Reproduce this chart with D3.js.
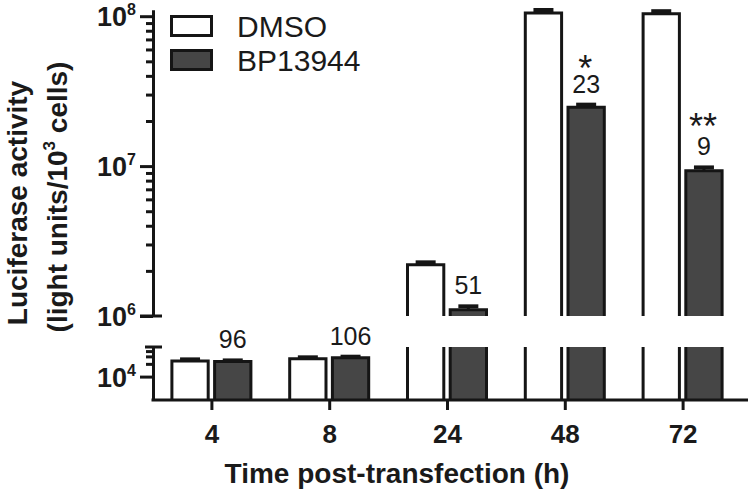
<!DOCTYPE html>
<html>
<head>
<meta charset="utf-8">
<script src="https://cdn.jsdelivr.net/npm/d3@7"></script>
<style>
  body { margin: 0; background: #fff; }
  svg { display: block; font-family: "Liberation Sans", Arial, sans-serif; }
</style>
</head>
<body>
<svg class="chart" width="750" height="492"></svg>
<script>
// data
const categories = ["4", "8", "24", "48", "72"];
const seriesNames = ["DMSO", "BP13944"];
const dmsoValues = [2.35e4, 2.65e4, 2.2e6, 1.05e8, 1.04e8];
const dmsoErrors = [0.2e4, 0.2e4, 0.08e6, 0.05e8, 0.04e8];
const bpValues = [2.26e4, 2.8e4, 1.1e6, 2.47e7, 9.3e6];
const bpErrors = [0.15e4, 0.15e4, 0.06e6, 0.1e7, 0.5e6];
const percentLabels = ["96", "106", "51", "23", "9"];
const starLabels = ["", "", "", "*", "**"];
const upperMajorTicks = [1e6, 1e7, 1e8];
const upperMinorTicks = [2e6, 3e6, 4e6, 5e6, 6e6, 7e6, 8e6, 9e6, 2e7, 3e7, 4e7, 5e7, 6e7, 7e7, 8e7, 9e7];
const lowerMajorTicks = [1e4];
const lowerMinorTicks = [2e4, 3e4, 4e4];

const ink = "#151515";
const fills = { "DMSO": "#ffffff", "BP13944": "#464646" };

const svg = d3.select(".chart");
const axisX = 153, baseY = 400;

// broken log axis: two segments
const yLow = d3.scaleLog().domain([2.8e3, 5e4]).range([baseY, 347]);
const yHigh = d3.scaleLog().domain([1e6, 1.1e8]).range([316, 10]);
const lowTop = 5e4;

const x = d3.scaleBand().domain(categories).range([axisX, 742]).padding(0);
const xs = d3.scaleBand().domain(seriesNames).range([-40, 39]).paddingInner(0.15);

const rows = [];
categories.forEach((c, i) => {
  rows.push({ cat: c, s: "DMSO", v: dmsoValues[i], e: dmsoErrors[i] });
  rows.push({ cat: c, s: "BP13944", v: bpValues[i], e: bpErrors[i] });
});

const bars = svg.append("g");
rows.forEach(d => {
  const x0 = x(d.cat) + x.bandwidth() / 2 + xs(d.s);
  const x1 = x0 + xs.bandwidth();
  const cx = (x0 + x1) / 2;
  let top, capY;
  if (d.v <= lowTop) {
    top = yLow(d.v);
    capY = yLow(d.v + d.e);
    bars.append("rect").attr("x", x0).attr("y", top).attr("width", x1 - x0).attr("height", baseY - top)
      .attr("fill", fills[d.s]);
    bars.append("path").attr("d", `M${x0},${baseY}V${top}H${x1}V${baseY}`)
      .attr("fill", "none").attr("stroke", ink).attr("stroke-width", 3);
  } else {
    const lt = yLow(lowTop);
    top = yHigh(d.v);
    capY = yHigh(d.v + d.e);
    bars.append("rect").attr("x", x0).attr("y", lt).attr("width", x1 - x0).attr("height", baseY - lt)
      .attr("fill", fills[d.s]);
    bars.append("path").attr("d", `M${x0},${baseY}V${lt}M${x1},${lt}V${baseY}`)
      .attr("fill", "none").attr("stroke", ink).attr("stroke-width", 3);
    bars.append("rect").attr("x", x0).attr("y", top).attr("width", x1 - x0).attr("height", yHigh(1e6) - top)
      .attr("fill", fills[d.s]);
    bars.append("path").attr("d", `M${x0},${yHigh(1e6)}V${top}H${x1}V${yHigh(1e6)}`)
      .attr("fill", "none").attr("stroke", ink).attr("stroke-width", 3);
  }
  // error bar (upper half only)
  bars.append("line").attr("x1", cx).attr("x2", cx).attr("y1", top).attr("y2", capY)
    .attr("stroke", ink).attr("stroke-width", 3);
  bars.append("line").attr("x1", cx - 10).attr("x2", cx + 10).attr("y1", capY).attr("y2", capY)
    .attr("stroke", ink).attr("stroke-width", 4);
  d.cx = cx; d.capY = capY;
});

// percent + significance labels above the BP13944 bars
const bpRows = rows.filter(d => d.s === "BP13944");
bpRows.forEach((d, i) => {
  svg.append("text").attr("x", d.cx).attr("y", d.capY - 12)
    .attr("text-anchor", "middle").attr("font-size", 25).attr("fill", "#1a1a1a")
    .text(percentLabels[i]);
  if (starLabels[i]) {
    svg.append("text").attr("x", d.cx - 1).attr("y", d.capY - 12 - (starLabels[i].length > 1 ? 16 : 12))
      .attr("text-anchor", "middle").attr("font-size", 36).attr("fill", "#1a1a1a")
      .text(starLabels[i]);
  }
});

// x axis
const gx = svg.append("g").attr("transform", `translate(0,${baseY})`)
  .call(d3.axisBottom(x).tickSize(10).tickSizeOuter(0).tickPadding(6));
gx.select(".domain").remove();
gx.append("line").attr("x1", axisX - 1.5).attr("x2", 748).attr("y1", 0).attr("y2", 0)
  .attr("stroke", ink).attr("stroke-width", 3);
gx.selectAll(".tick line").attr("stroke", ink).attr("stroke-width", 3);
gx.selectAll(".tick text").attr("font-size", 26).attr("font-weight", "bold")
  .attr("fill", "#1a1a1a").attr("font-family", "Liberation Sans, Arial, sans-serif").attr("dy", "1.05em");

// y axis segments
function drawSegment(scale, majors, minors) {
  const g = svg.append("g").attr("transform", `translate(${axisX},0)`);
  g.call(d3.axisLeft(scale).tickValues(majors).tickSize(13).tickSizeOuter(0).tickFormat(""));
  g.call(sel => sel.append("g").call(d3.axisLeft(scale).tickValues(minors).tickSize(7).tickSizeOuter(0).tickFormat("")));
  g.selectAll("path.domain").attr("stroke", ink).attr("stroke-width", 3);
  g.selectAll(".tick line").attr("stroke", ink).attr("stroke-width", 3);
  majors.forEach(v => {
    const t = g.append("text").attr("x", -17).attr("y", scale(v) + 10)
      .attr("text-anchor", "end").attr("font-weight", "bold").attr("fill", "#1a1a1a");
    t.append("tspan").attr("font-size", 27).text("10");
    t.append("tspan").attr("font-size", 16).attr("dy", -11).text(Math.round(Math.log10(v)));
  });
  return g;
}
drawSegment(yHigh, upperMajorTicks, upperMinorTicks);
drawSegment(yLow, lowerMajorTicks, lowerMinorTicks);

// break caps
[yHigh(1e6), yLow(lowTop)].forEach((yy, i) => {
  svg.append("line").attr("x1", axisX - (i ? 8 : 13)).attr("x2", axisX + 9).attr("y1", yy).attr("y2", yy)
    .attr("stroke", ink).attr("stroke-width", 3);
});

// axis titles
svg.append("text").attr("x", 397).attr("y", 483).attr("text-anchor", "middle")
  .attr("font-size", 28).attr("font-weight", "bold").attr("fill", "#1a1a1a")
  .text("Time post-transfection (h)");

const yt1 = svg.append("text").attr("transform", "translate(27,203) rotate(-90)")
  .attr("text-anchor", "middle").attr("font-size", 28).attr("font-weight", "bold").attr("fill", "#1a1a1a")
  .text("Luciferase activity");
const yt2 = svg.append("text").attr("transform", "translate(67,197) rotate(-90)")
  .attr("text-anchor", "middle").attr("font-size", 28).attr("font-weight", "bold").attr("fill", "#1a1a1a");
yt2.append("tspan").text("(light units/10");
yt2.append("tspan").attr("font-size", 17).attr("dy", -12).text("3");
yt2.append("tspan").attr("dy", 12).text(" cells)");

// legend
const legend = svg.append("g");
seriesNames.forEach((s, i) => {
  legend.append("rect").attr("x", 171.5).attr("y", 16.5 + i * 34).attr("width", 40).attr("height", 19)
    .attr("fill", fills[s]).attr("stroke", ink).attr("stroke-width", 3);
  legend.append("text").attr("x", 237).attr("y", 37 + i * 34)
    .attr("font-size", 30).attr("fill", "#1a1a1a").text(s);
});
</script>
</body>
</html>
